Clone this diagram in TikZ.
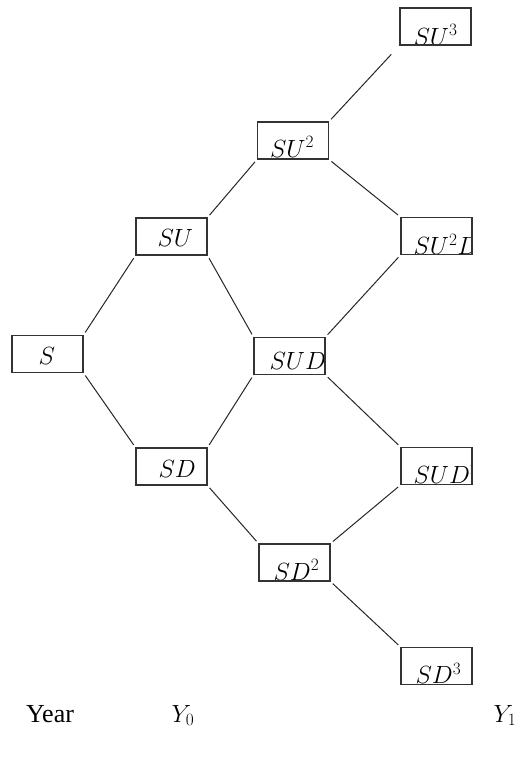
\documentclass[tikz,border=0pt]{standalone}
\usepackage{fontspec}
\setmainfont{Liberation Serif}
\tikzset{
  bx/.style={draw=black!80, line width=1.1pt, minimum width=71pt, minimum height=37pt, inner sep=0pt},
  ln/.style={draw=black!85, line width=1pt, shorten >=3pt, shorten <=3pt},
  lbl/.style={font=\fontsize{26}{30}\selectfont, inner sep=0pt, draw=none, minimum width=0pt, minimum height=0pt}
}
\newcommand\bxn[6]{%
  \node[bx, path picture={\node[lbl, anchor=base west] at ([xshift=#5pt, yshift=#6pt]path picture bounding box.south west) {#4};}] (#1) at (#2,#3) {};}
\begin{document}
\begin{tikzpicture}[x=1pt,y=-1pt]
\useasboundingbox (0,0) rectangle (520,761);
\bxn{s}{47.5}{354}{$S$}{26}{8}
\bxn{su}{171.5}{236.5}{$SU$}{21}{9}
\bxn{sd}{171.5}{466.5}{$SD$}{22}{8}
\bxn{suu}{293}{140.5}{$SU^2$}{12}{2}
\bxn{sud}{289.5}{356}{$SUD$}{15}{5}
\bxn{sdd}{294.5}{562.5}{$SD^2$}{14}{1}
\bxn{suuu}{435.5}{26.5}{$SU^3$}{13}{0}
\bxn{suud}{436.5}{236}{$SU^2D$}{12}{0}
\bxn{sudd}{436.5}{466}{$SUD^2$}{12}{1}
\bxn{sddd}{436.5}{666}{$SD^3$}{14}{1}
\draw[ln] (s.north east) -- (su.south west);
\draw[ln] (s.south east) -- (sd.north west);
\draw[ln] (su.north east) -- (suu.south west);
\draw[ln] (su.south east) -- (sud.north west);
\draw[ln] (sd.north east) -- (sud.south west);
\draw[ln] (sd.south east) -- (sdd.north west);
\draw[ln, shorten >=12pt] (suu.north east) -- (suuu.south west);
\draw[ln] (suu.south east) -- (suud.north west);
\draw[ln] (sud.north east) -- (suud.south west);
\draw[ln] (sud.south east) -- (sudd.north west);
\draw[ln] (sdd.north east) -- (sudd.south west);
\draw[ln] (sdd.south east) -- (sddd.north west);
\node[lbl, anchor=base] (year) at (50,722) {Year};
\node[lbl, anchor=base] (y0) at (183,722) {$Y_0$};
\node[lbl, anchor=base] (y1) at (505,722) {$Y_1$};
\end{tikzpicture}
\end{document}
